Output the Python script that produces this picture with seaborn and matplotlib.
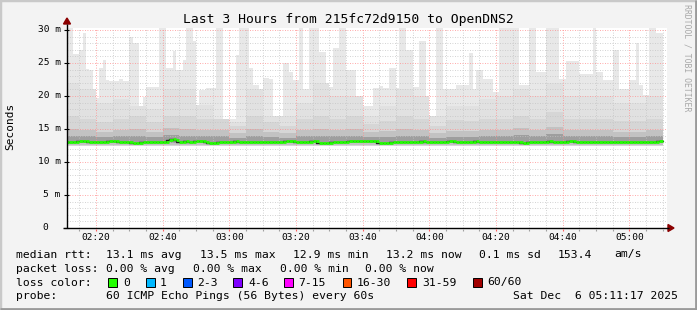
import numpy as np
import matplotlib
matplotlib.use("Agg")
import matplotlib.pyplot as plt
import seaborn as sns
import pandas as pd
from matplotlib.patches import Rectangle, Polygon
from matplotlib.lines import Line2D

# ---------------- data ----------------
# one-minute steps, bin m covers minutes (m-1, m] after 02:00
minute_end = list(range(12, 191))
max_ms = [23.7, 31, 31, 26.3, 26.3, 27, 29.6, 24.1, 24, 19.7,
          19.7, 24.2, 25.5, 22.4, 22.2, 22.2, 22.2, 22.6, 22.2, 22.2,
          29, 28, 28, 18.5, 19.9, 21.4, 21.4, 21.4, 21.4, 31,
          31, 24.2, 24.2, 26.8, 23.9, 23.9, 25.5, 31, 31, 28.3,
          18.6, 20.9, 20.9, 21.2, 21.2, 21.2, 31, 31, 16.5, 16.5,
          16.5, 16.5, 26.2, 31, 31, 31, 24.2, 21.6, 21.6, 18.3,
          22.7, 22.7, 22.5, 17, 17, 17, 25, 25, 23.7, 22.4,
          22.4, 31, 21, 21, 31, 31, 31, 26.6, 26.6, 21.4,
          21.4, 27.3, 27.3, 31, 31,
          23.9, 23.9, 23.9, 20, 18.5, 18.5, 18.5, 18.5, 21.2, 21.2,
          21.5, 21.2, 21.2, 24.2, 24.2, 21.2, 31, 31, 27, 27,
          21.4, 21.4, 28.3, 28.3, 17, 17, 17, 31, 31, 21,
          21, 21, 21, 21.7, 21.7, 21.7, 21.7, 26.5, 21, 23.9,
          23.9, 22.6, 22.6, 22.6, 20.6, 20.6, 31, 31, 31, 31,
          31, 31, 21.7, 21.7, 21.7, 31, 31, 23.7, 23.7, 23.7,
          31, 31, 31, 31, 22.5, 22.5, 25.3, 25.3, 25.3, 25.3,
          23.3, 23.3, 23.3, 23.3, 31, 23.7, 23.7, 22.4, 22.4, 22.4,
          27, 27, 21, 21, 21, 22.4, 22.4, 28, 21.7, 20.1,
          20.1, 31, 31, 29.5]
median_ms = [13.1, 13.1, 13.1, 13.1, 13.2, 13.2, 13.2, 13.1, 13.1, 13.1,
             13.05, 13.05, 13.05, 13.2, 13.2, 13.2, 13.1, 13.1, 13.1, 13.1,
             12.9, 12.9, 12.9, 13.05, 13.05, 13.05, 13.05, 13.05, 13.05, 13.05,
             13.05, 13.3, 13.5, 13.3, 13.05, 13.05, 13.2, 13.05, 13.05, 13.2,
             13.2, 13.2, 13.05, 12.9, 12.9, 12.9, 13.0, 13.0, 13.0, 13.0,
             13.0, 13.2, 13.05, 13.05, 13.05, 13.05, 13.05, 13.05, 13.05, 13.05,
             13.05, 13.05, 13.05, 13.05, 13.05, 13.05, 13.2, 13.2, 13.2, 13.05,
             13.05, 13.05, 13.05, 13.05, 13.2, 13.2, 12.9, 12.9, 12.9, 12.9,
             13.1, 13.1, 13.1, 13.1, 13.1,
             13.15, 13.15, 13.15, 13.15, 13.15, 13.15, 13.15, 13.15, 13.15, 12.95,
             12.95, 12.95, 12.95, 13.05, 13.05, 13.05, 13.05, 13.05, 13.05, 13.05,
             13.05, 13.05, 13.2, 13.05, 13.05, 13.05, 13.05, 13.05, 13.05, 13.05,
             13.15, 13.15, 13.05, 13.05, 13.05, 13.05, 13.05, 13.05, 13.2, 13.05,
             13.05, 13.05, 13.05, 13.05, 13.05, 13.05, 13.05, 13.05, 13.05, 13.05,
             13.05, 13.05, 12.9, 12.9, 13.05, 13.05, 13.05, 13.05, 13.05, 13.05,
             13.2, 13.05, 13.05, 13.05, 13.05, 13.05, 13.15, 13.15, 13.05, 13.05,
             13.05, 13.05, 13.05, 13.05, 13.05, 13.05, 13.05, 13.05, 13.05, 13.05,
             13.1, 13.1, 13.1, 13.1, 13.1, 13.1, 13.1, 13.1, 13.1, 13.1,
             13.1, 13.1, 13.1, 13.2]

# five-minute blocks for the inner smoke bands (block starts, minutes after 02:00)
block_start = list(range(10, 190, 5))
p95_ms = [22, 21, 19, 19.5, 21, 18, 21, 21, 19, 20, 16, 21, 18, 18, 19, 22, 20, 21,
          17, 18.5, 21, 20, 17, 18.5, 18.5, 19.5, 20, 21, 20, 22, 20, 20, 20, 19, 19, 20]
p85_ms = [17, 16.5, 16, 16.5, 17, 16, 17, 17, 16.5, 16.5, 15.5, 17, 16, 15.5, 16.5, 17, 16.5, 17,
          15.8, 16.2, 17, 16.5, 15.5, 16.3, 16.2, 16.5, 16.5, 17, 16.5, 17.5, 16.5, 16.5, 16.5, 16.2, 16.2, 16.5]
p70_ms = [15, 14.8, 14.6, 14.8, 15, 14.6, 15.2, 15, 14.8, 14.8, 14.4, 15, 14.6, 14.4, 14.8, 15, 14.8, 15,
          14.5, 14.7, 15, 14.8, 14.4, 14.7, 14.7, 14.8, 14.8, 15.1, 14.8, 15.3, 14.8, 14.8, 14.8, 14.6, 14.6, 14.8]
p55_ms = [14.0, 13.9, 13.8, 13.9, 14.0, 13.8, 14.1, 14.0, 13.9, 13.9, 13.7, 14.0, 13.8, 13.7, 13.9, 14.0, 13.9, 14.0,
          13.8, 13.8, 14.0, 13.9, 13.7, 13.8, 13.8, 13.9, 13.9, 14.1, 13.9, 14.2, 13.9, 13.9, 13.9, 13.8, 13.8, 13.9]
min_ms = 12.35
p20_ms = 12.6
p40_ms = 12.85

y_ticks = [0, 5, 10, 15, 20, 25, 30]
y_tick_labels = ["0", "5 m", "10 m", "15 m", "20 m", "25 m", "30 m"]
x_ticks = [20, 40, 60, 80, 100, 120, 140, 160, 180]
x_tick_labels = ["02:20", "02:40", "03:00", "03:20", "03:40", "04:00", "04:20", "04:40", "05:00"]
x_start, x_end = 11.28, 191.28

loss_labels = ["0", "1", "2-3", "4-6", "7-15", "16-30", "31-59", "60/60"]
loss_colors = ["#22ff00", "#00b8ff", "#0059ff", "#7e00ff", "#ff00ff", "#ff5500", "#ff0000", "#a10000"]

# ---------------- figure ----------------
sns.set_theme(style="white")
plt.rcParams["font.family"] = ["DejaVu Sans Mono", "DejaVu Sans"]

W, H = 697, 310
fig = plt.figure(figsize=(W / 100, H / 100), dpi=100, facecolor="#f3f3f3")


def fx(px):
    return px / W


def fy(py):
    return 1 - py / H


PL, PR, PT, PB = 67, 667, 28, 228
ax = fig.add_axes([fx(PL), fy(PB), (PR - PL) / W, (PB - PT) / H])
ax.set_facecolor("white")
ax.set_xlim(x_start, x_end)
ax.set_ylim(0, 30.3)
for s in ax.spines.values():
    s.set_visible(False)
ax.set_xticks([])
ax.set_yticks([])

# smoke (minute resolution outer band)
xm = np.array([minute_end[0] - 1] + minute_end, dtype=float)
mx = np.array(max_ms + [max_ms[-1]])
ax.fill_between(xm, min_ms, mx, step="pre", color="#e8e8e8", lw=0, zorder=1)

# inner bands at 5-minute resolution, limited to the outer envelope
xb = np.array(block_start + [block_start[-1] + 5], dtype=float)
xb[-1] = minute_end[-1]
env_at_block = []
for i, b in enumerate(block_start):
    lo, hi = b, b + 5
    vals = [max_ms[j] for j, m in enumerate(minute_end) if lo < m <= hi]
    env_at_block.append(min(vals) if vals else 31)

bands = [
    (p95_ms, min_ms, "#e1e1e1"),
    (p85_ms, min_ms, "#d6d6d6"),
    (p70_ms, p20_ms, "#c2c2c2"),
    (p55_ms, p40_ms, "#9e9e9e"),
]
for top, bot, col in bands:
    t = np.minimum(np.array(top), np.array(env_at_block))
    t = np.append(t, t[-1])
    ax.fill_between(xb, bot, t, step="post", color=col, lw=0, zorder=2)

# grid (drawn over smoke, as rrdtool does)
for v in np.arange(0, 31, 1):
    if v % 5 == 0:
        continue
    ax.axhline(v, color="#c4c4c4", lw=0.6, ls=(0, (1, 2)), zorder=3)
for v in np.arange(15, 191, 5):
    if v % 20 == 0:
        continue
    ax.axvline(v, color="#c4c4c4", lw=0.6, ls=(0, (1, 2)), zorder=3)
for v in y_ticks[1:]:
    ax.axhline(v, color="#ff8c8c", lw=0.6, ls=(0, (1, 2)), zorder=3)
for v in x_ticks:
    ax.axvline(v, color="#ff8c8c", lw=0.6, ls=(0, (1, 2)), zorder=3)

# median line: dark step line beneath, green loss-colour segments on top
df = pd.DataFrame({"t": xm, "med": median_ms + [median_ms[-1]]})
sns.lineplot(data=df, x="t", y="med", ax=ax, drawstyle="steps-pre",
             color="#202020", lw=1.0, zorder=4, legend=False)
ax.hlines(median_ms, np.array(minute_end) - 1, np.array(minute_end),
          color=loss_colors[0], lw=2.0, zorder=5)
ax.set_xlabel("")
ax.set_ylabel("")
ax.set_xlim(x_start, x_end)
ax.set_ylim(0, 30.3)

# axes lines + arrows (figure pixels)
def fig_line(x0, y0, x1, y1, color="black", lw=1.0):
    fig.add_artist(Line2D([fx(x0), fx(x1)], [fy(y0), fy(y1)], color=color, lw=lw,
                          transform=fig.transFigure, solid_capstyle="butt"))


fig_line(PL, PB, PL, 24)
fig_line(63, PB, 669, PB)
fig.add_artist(Polygon([[fx(PL - 3.5), fy(24)], [fx(PL + 3.5), fy(24)], [fx(PL), fy(18)]],
                       closed=True, color="#8b0000", transform=fig.transFigure))
fig.add_artist(Polygon([[fx(668), fy(224.5)], [fx(668), fy(231.5)], [fx(674), fy(PB)]],
                       closed=True, color="#8b0000", transform=fig.transFigure))

# ticks
def ypix(v):
    return PB - v * (PB - PT) / 30.3


def xpix(v):
    return PL + (v - x_start) * (PR - PL) / (x_end - x_start)


for v in y_ticks:
    fig_line(PL - 3, ypix(v), PL + 2, ypix(v), color="black", lw=0.8)
for v in np.arange(15, 191, 5):
    col = "#ff6060" if v % 20 == 0 else "#a0a0a0"
    fig_line(xpix(v), PB + 1, xpix(v), PB + 3, color=col, lw=0.8)

# tick labels
for v, lab in zip(y_ticks, y_tick_labels):
    if v == 0:
        fig.text(fx(48), fy(ypix(v)), lab, ha="right", va="center", fontsize=6.8, color="black")
    else:
        fig.text(fx(60.5), fy(ypix(v)), lab, ha="right", va="center", fontsize=6.8, color="black")
for v, lab in zip(x_ticks, x_tick_labels):
    fig.text(fx(xpix(v)), fy(238), lab, ha="center", va="center", fontsize=6.8, color="black")

# title, axis label, watermark
fig.text(fx(348), fy(19), "Last 3 Hours from 215fc72d9150 to OpenDNS2", ha="center", va="center",
         fontsize=9.4, color="black")
fig.text(fx(10.5), fy(126), "Seconds", ha="center", va="center", rotation=90, fontsize=8.0, color="black")
fig.text(fx(687.5), fy(4), "RRDTOOL / TOBI OETIKER", ha="center", va="top", rotation=270,
         fontsize=5.9, color="#a8a8a8")

# legend rows
fs = 8.2
rows = [
    (254.5, [(16, "median rtt:"), (106.5, "13.1 ms avg"), (200, "13.5 ms max"), (293, "12.9 ms min"),
             (386, "13.2 ms now"), (479, "0.1 ms sd"), (558, "153.4"), (614, "am/s")]),
    (268.5, [(16, "packet loss:"), (106.5, "0.00 % avg"), (193, "0.00 % max"), (279.5, "0.00 % min"),
             (365, "0.00 % now")]),
    (296, [(16, "probe:"), (106.5, "60 ICMP Echo Pings (56 Bytes) every 60s"),
           (513, "Sat Dec  6 05:11:17 2025")]),
]
for yy, items in rows:
    for xx, txt in items:
        fig.text(fx(xx), fy(yy), txt, ha="left", va="center", fontsize=fs, color="black")

fig.text(fx(16), fy(282.5), "loss color:", ha="left", va="center", fontsize=fs, color="black")
box_x = [108, 146, 183, 233, 284, 343, 407, 473]
lab_x = [123, 160, 197, 248, 298, 357, 422, 487]
for bx, lx, lab, col in zip(box_x, lab_x, loss_labels, loss_colors):
    fig.add_artist(Rectangle((fx(bx), fy(287)), 8.5 / W, 9 / H, facecolor=col, edgecolor="black",
                             lw=0.7, transform=fig.transFigure))
    fig.text(fx(lx), fy(282.5), lab, ha="left", va="center", fontsize=fs, color="black")

# outer frame (rrdtool style)
fig.add_artist(Rectangle((0, 0), 1, 1, fill=False, edgecolor="#c9c9c9", lw=2.5, transform=fig.transFigure))
fig_line(0, H - 1, W, H - 1, color="#9a9a9a", lw=2)
fig_line(W - 1, 0, W - 1, H, color="#9a9a9a", lw=2)

fig.savefig("out.png", dpi=100, facecolor=fig.get_facecolor())
